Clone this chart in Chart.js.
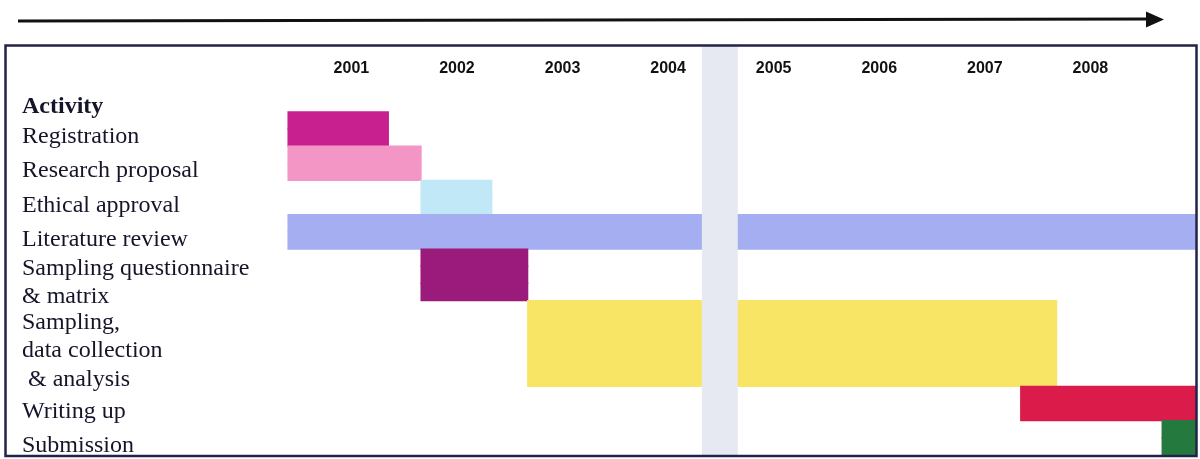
<!DOCTYPE html>
<html>
<head>
<meta charset="utf-8">
<script src="https://cdn.jsdelivr.net/npm/chart.js@4.4.1/dist/chart.umd.min.js"></script>
<style>
  html, body { margin: 0; padding: 0; background: #ffffff; }
  #wrap { width: 1200px; height: 459px; position: relative; }
</style>
</head>
<body>
<div id="wrap"><canvas id="c" width="1200" height="459"></canvas></div>
<script>
// ---- data ----
const headerLabel = 'Activity';
const activities = [
  'Registration',
  'Research proposal',
  'Ethical approval',
  'Literature review',
  ['Sampling questionnaire', '& matrix'],
  ['Sampling,', 'data collection', ' & analysis'],
  'Writing up',
  'Submission'
];
const startYear = [2000.40, 2000.40, 2001.66, 2000.40, 2001.66, 2002.67, 2007.34, 2008.68];
const endYear   = [2001.35, 2001.66, 2002.33, 2009.01, 2002.67, 2007.68, 2009.01, 2009.01];
const rowSpan   = [2, 2, 2, 2, 3, 5, 2, 2];          // half-line rows each activity occupies
const barColors = ['#c8208e', '#f396c6', '#c0e8f7', '#a4aef0', '#9b1b7c', '#f8e565', '#db1c4a', '#24793f'];
const yearTicks = [2001, 2002, 2003, 2004, 2005, 2006, 2007, 2008];
const yearRange = [2000.39, 2009.01];
const foldBand  = [2004.32, 2004.66];   // pale vertical band of the scanned page

// ---- build library structures ----
const barData = [];
const barBg = [];
const labelTicks = [{ value: -0.75 + 0.45, label: headerLabel }];
let slot = 0;
activities.forEach((name, i) => {
  for (let s = 0; s < rowSpan[i]; s++) {
    barData.push({ y: slot + s + 0.5, x: [startYear[i], endYear[i]] });
    barBg.push(barColors[i]);
  }
  labelTicks.push({ value: slot + rowSpan[i] / 2 + 0.45, label: name });
  slot += rowSpan[i];
});
const totalRows = slot;

const decor = {
  id: 'decor',
  afterDatasetsDraw(chart) {
    const { ctx, scales: { x } } = chart;
    ctx.save();
    ctx.fillStyle = '#e6e8f2';
    const x0 = x.getPixelForValue(foldBand[0]);
    const x1 = x.getPixelForValue(foldBand[1]);
    ctx.fillRect(x0, 46, x1 - x0, 409);
    ctx.restore();
  },
  afterDraw(chart) {
    const { ctx } = chart;
    ctx.save();
    // frame
    ctx.strokeStyle = '#23234a';
    ctx.lineWidth = 2.5;
    ctx.strokeRect(5.5, 45.5, 1191, 410.5);
    // arrow
    ctx.strokeStyle = '#111';
    ctx.lineWidth = 3;
    ctx.beginPath();
    ctx.moveTo(18, 21);
    ctx.lineTo(1150, 19);
    ctx.stroke();
    ctx.fillStyle = '#111';
    ctx.beginPath();
    ctx.moveTo(1146, 11.5);
    ctx.lineTo(1164, 19.5);
    ctx.lineTo(1146, 27.5);
    ctx.closePath();
    ctx.fill();
    ctx.restore();
  }
};

new Chart(document.getElementById('c'), {
  type: 'bar',
  data: {
    datasets: [{
      data: barData,
      backgroundColor: barBg,
      borderWidth: 0,
      inflateAmount: 0.6,
      barPercentage: 1,
      categoryPercentage: 1
    }]
  },
  options: {
    indexAxis: 'y',
    responsive: false,
    animation: false,
    layout: { padding: { top: 45, left: 22, right: 3, bottom: 4 } },
    plugins: { legend: { display: false }, tooltip: { enabled: false } },
    scales: {
      x: {
        type: 'linear',
        position: 'top',
        offset: false,
        min: yearRange[0],
        max: yearRange[1],
        grid: { display: false, drawTicks: false, offset: false },
        border: { display: false },
        afterBuildTicks(scale) { scale.ticks = yearTicks.map(v => ({ value: v })); },
        afterFit(scale) { scale.height = 41; scale.paddingLeft = 0; scale.paddingRight = 0; },
        ticks: {
          autoSkip: false,
          maxRotation: 0,
          padding: 8,
          color: '#111',
          font: { family: '"Liberation Sans", Arial, sans-serif', size: 16, weight: 'bold' },
          callback: (v, i) => String(yearTicks[i])
        }
      },
      y: {
        type: 'linear',
        reverse: true,
        offset: false,
        min: -1.5,
        max: totalRows,
        grid: { display: false, drawTicks: false, offset: false },
        border: { display: false },
        afterBuildTicks(scale) { scale.ticks = labelTicks.map(t => ({ value: t.value })); },
        afterFit(scale) { scale.width = 265; scale.paddingTop = 0; scale.paddingBottom = 0; },
        ticks: {
          autoSkip: false,
          crossAlign: 'far',
          color: '#15152a',
          font: (ctx) => ({
            family: '"Liberation Serif", "Times New Roman", serif',
            size: 24,
            lineHeight: 1.18,
            weight: ctx.index === 0 ? 'bold' : 'normal'
          }),
          callback: (v, i) => labelTicks[i].label
        }
      }
    }
  },
  plugins: [decor]
});
</script>
</body>
</html>
